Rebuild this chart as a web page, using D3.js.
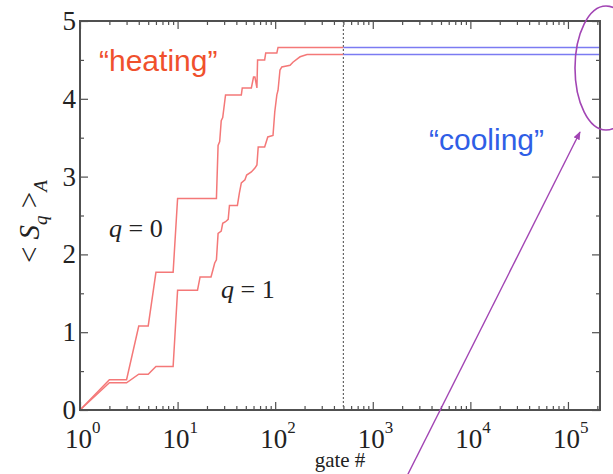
<!DOCTYPE html>
<html>
<head>
<meta charset="utf-8">
<script src="https://cdn.jsdelivr.net/npm/d3@7"></script>
<style>
  html, body { margin: 0; padding: 0; background: #fff; }
  svg { display: block; }
</style>
</head>
<body>
<svg id="chart" width="613" height="474"></svg>
<script>
// Average entanglement entropy vs. gate number: heating (red) then cooling (blue)
const gatesQ0 = [1, 2, 3, 4, 5, 6, 9, 10, 25, 26, 27, 28, 29, 31, 45, 46, 57, 60, 62, 65, 66, 78, 80, 104, 107, 500];
const entropyQ0 = [0, 0.39, 0.39, 1.08, 1.08, 1.77, 1.77, 2.72, 2.72, 3.40, 3.45, 3.72, 3.76, 4.05, 4.05, 4.14, 4.14, 4.28, 4.28, 4.14, 4.50, 4.50, 4.59, 4.59, 4.66, 4.66];

const gatesQ1 = [1, 2, 3, 4, 5, 6, 9, 10, 16, 17, 22, 23, 24, 25, 26, 28, 29, 31, 33, 34, 41, 43, 45, 49, 51, 57, 62, 65, 67, 78, 84, 95, 99, 104, 107, 112, 117, 142, 152, 171, 180, 212, 500];
const entropyQ1 = [0, 0.35, 0.35, 0.46, 0.46, 0.56, 0.56, 1.54, 1.54, 1.71, 1.71, 1.80, 1.89, 1.93, 2.27, 2.30, 2.40, 2.42, 2.45, 2.63, 2.63, 2.79, 2.92, 2.96, 3.02, 3.06, 3.11, 3.15, 3.38, 3.38, 3.51, 3.53, 3.83, 4.05, 4.11, 4.37, 4.41, 4.43, 4.47, 4.52, 4.54, 4.57, 4.57];

// cooling stage keeps the final heating values
const coolingStart = 500;
const coolingEnd = 2.13e5;
const coolingLevels = [4.66, 4.57];

const xDecades = [1, 10, 100, 1000, 10000, 100000];
const yMajor = [0, 1, 2, 3, 4, 5];
const yMinor = [0.5, 1.5, 2.5, 3.5, 4.5];

const svg = d3.select("#chart");
const padL = 80, padR = 600, padT = 21, padB = 410;

const x = d3.scaleLog().domain([1, coolingEnd]).range([padL, padR]);
const y = d3.scaleLinear().domain([0, 5]).range([padB, padT]);

const xMinor = [];
xDecades.forEach(d => { for (let k = 2; k <= 9; k++) if (d * k <= coolingEnd) xMinor.push(d * k); });

const frame = "#505050";
const serif = "'Liberation Serif', 'DejaVu Serif', serif";
const sans = "'Liberation Sans', Arial, sans-serif";

// tick marks pointing into the plot on all four sides
function ticks(g, axisGen, vals, size) {
  g.call(axisGen.tickValues(vals).tickSize(size).tickFormat(""))
   .call(s => s.select(".domain").remove())
   .call(s => s.selectAll("line").attr("stroke", frame).attr("stroke-width", 1.2));
}
const gB = svg.append("g").attr("transform", `translate(0,${padB})`);
ticks(gB.append("g"), d3.axisTop(x), xDecades, 8);
ticks(gB.append("g"), d3.axisTop(x), xMinor, 4);
const gT = svg.append("g").attr("transform", `translate(0,${padT})`);
ticks(gT.append("g"), d3.axisBottom(x), xDecades, 8);
ticks(gT.append("g"), d3.axisBottom(x), xMinor, 4);
const gL = svg.append("g").attr("transform", `translate(${padL},0)`);
ticks(gL.append("g"), d3.axisRight(y), yMajor, 8);
ticks(gL.append("g"), d3.axisRight(y), yMinor, 4);
const gR = svg.append("g").attr("transform", `translate(${padR},0)`);
ticks(gR.append("g"), d3.axisLeft(y), yMajor, 8);
ticks(gR.append("g"), d3.axisLeft(y), yMinor, 4);

// y tick labels
svg.append("g").selectAll("text").data(yMajor).join("text")
  .attr("x", padL - 4).attr("y", d => y(d) + 9)
  .attr("text-anchor", "end")
  .attr("font-family", serif).attr("font-size", 27).attr("fill", "#222")
  .text(d => d);

// x tick labels as 10^k
const xl = svg.append("g").selectAll("text").data(xDecades).join("text")
  .attr("x", d => x(d) - 15).attr("y", 448)
  .attr("font-family", serif).attr("font-size", 27).attr("fill", "#222");
xl.append("tspan").text("10");
xl.append("tspan").attr("dy", -15).attr("font-size", 17).text(d => Math.round(Math.log10(d)));

svg.append("text").attr("x", 340).attr("y", 467).attr("text-anchor", "middle")
  .attr("font-family", serif).attr("font-size", 21).attr("fill", "#222").text("gate #");

// y axis title  < S_q >_A
const yt = svg.append("text")
  .attr("transform", "translate(39,263) rotate(-90)")
  .attr("font-family", serif).attr("font-size", 29).attr("fill", "#222");
yt.append("tspan").text("< ");
yt.append("tspan").attr("font-style", "italic").text("S");
yt.append("tspan").attr("font-style", "italic").attr("font-size", 19).attr("dy", 8).text("q");
yt.append("tspan").attr("dy", -8).text(" >");
yt.append("tspan").attr("font-style", "italic").attr("font-size", 19).attr("dy", 8).text("A");

// dotted divider between heating and cooling
svg.append("line")
  .attr("x1", x(coolingStart)).attr("x2", x(coolingStart))
  .attr("y1", padT).attr("y2", padB)
  .attr("stroke", "#666").attr("stroke-width", 1.2).attr("stroke-dasharray", "2,2");

// heating curves
const line = d3.line().x(d => x(d[0])).y(d => y(d[1]));
[[gatesQ0, entropyQ0], [gatesQ1, entropyQ1]].forEach(([g, v]) => {
  svg.append("path").datum(g.map((n, i) => [n, v[i]]))
    .attr("d", line).attr("fill", "none")
    .attr("stroke", "#f47878").attr("stroke-width", 1.5);
});

// cooling plateaus
svg.append("g").selectAll("line").data(coolingLevels).join("line")
  .attr("x1", x(coolingStart)).attr("x2", x(coolingEnd))
  .attr("y1", d => y(d)).attr("y2", d => y(d))
  .attr("stroke", "#7b7bf2").attr("stroke-width", 1.5);

// frame
svg.append("rect").attr("x", padL).attr("y", padT)
  .attr("width", padR - padL).attr("height", padB - padT)
  .attr("fill", "none").attr("stroke", frame).attr("stroke-width", 2);

// annotations
svg.append("text").attr("x", 99).attr("y", 71)
  .attr("font-family", sans).attr("font-size", 30).attr("fill", "#f0502c").text("\u201Cheating\u201D");
svg.append("text").attr("x", 429).attr("y", 150)
  .attr("font-family", sans).attr("font-size", 30).attr("fill", "#2f5ee6").text("\u201Ccooling\u201D");

function qLabel(xp, yp, val) {
  const t = svg.append("text").attr("x", xp).attr("y", yp)
    .attr("font-family", serif).attr("font-size", 26).attr("fill", "#222");
  t.append("tspan").attr("font-style", "italic").text("q");
  t.append("tspan").text(" = " + val);
}
qLabel(109, 237, 0);
qLabel(221, 298, 1);

// purple ellipse around the final values and pointer arrow
const purple = "#a245b4";
svg.append("ellipse").attr("cx", 606).attr("cy", 68).attr("rx", 31).attr("ry", 62)
  .attr("fill", "none").attr("stroke", purple).attr("stroke-width", 1.6);
svg.append("defs").append("marker").attr("id", "ah")
  .attr("viewBox", "0 0 10 10").attr("refX", 9).attr("refY", 5)
  .attr("markerWidth", 6).attr("markerHeight", 6).attr("orient", "auto")
  .append("path").attr("d", "M0,1L10,5L0,9Z").attr("fill", purple);
svg.append("line").attr("x1", 404).attr("y1", 482).attr("x2", 580).attr("y2", 132)
  .attr("stroke", purple).attr("stroke-width", 1.4).attr("marker-end", "url(#ah)");
</script>
</body>
</html>
